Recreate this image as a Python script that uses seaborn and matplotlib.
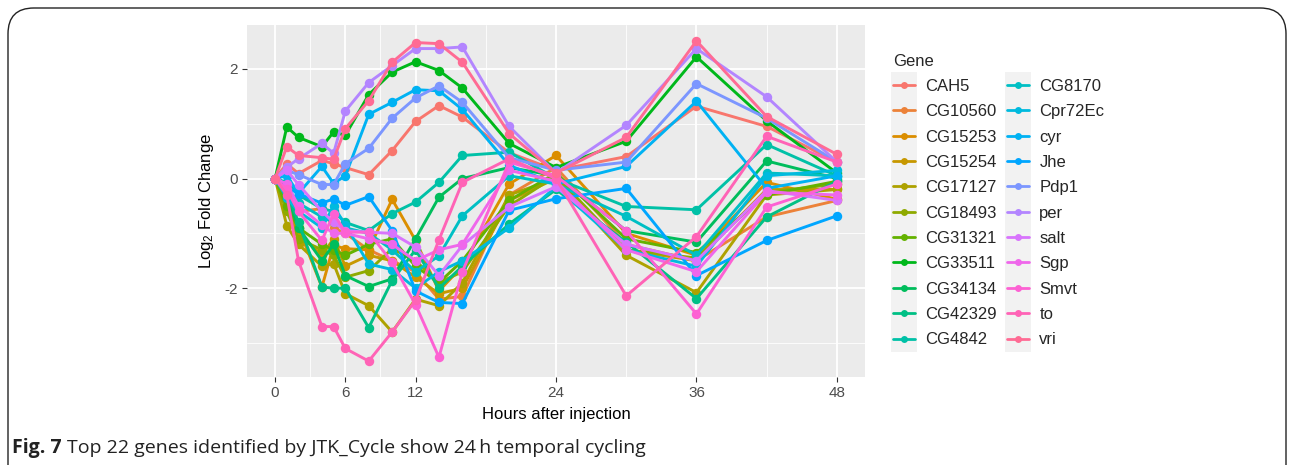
import numpy as np
import pandas as pd
import matplotlib
matplotlib.use("Agg")
import matplotlib.pyplot as plt
import seaborn as sns
from matplotlib.legend_handler import HandlerLine2D
from matplotlib.lines import Line2D
from matplotlib.patches import Rectangle, FancyBboxPatch

# ---------------- data ----------------
hours = [0, 1, 2, 4, 5, 6, 8, 10, 12, 14, 16, 20, 24, 30, 36, 42, 48]

genes = ["CAH5", "CG10560", "CG15253", "CG15254", "CG17127", "CG18493", "CG31321",
         "CG33511", "CG34134", "CG42329", "CG4842", "CG8170", "Cpr72Ec", "cyr", "Jhe",
         "Pdp1", "per", "salt", "Sgp", "Smvt", "to", "vri"]

CAH5    = [0, 0.27, 0.09, 0.33, 0.27, 0.20, 0.07, 0.51, 1.04, 1.33, 1.12, 0.47, 0.15, 0.40, 1.32, 0.95, 0.30]
CG10560 = [0, -0.30, -0.60, -0.55, -0.90, -1.00, -1.30, -1.50, -1.70, -2.20, -2.15, -0.30, 0.20, -1.20, -1.50, -0.70, -0.40]
CG15253 = [0, -0.40, -0.90, -1.98, -1.22, -1.28, -1.30, -0.38, -1.13, -2.05, -1.60, -0.10, 0.42, -1.00, -1.40, -0.07, -0.38]
CG15254 = [0, -0.50, -1.00, -1.40, -1.10, -1.60, -1.40, -1.50, -1.80, -2.10, -2.00, -0.40, 0.00, -1.30, -1.50, -0.20, -0.20]
CG17127 = [0, -0.86, -1.20, -1.60, -1.55, -2.10, -2.32, -2.80, -2.20, -2.32, -1.90, -0.30, 0.00, -1.40, -2.08, -0.30, -0.20]
CG18493 = [0, -0.60, -1.10, -1.30, -1.40, -1.80, -1.68, -1.28, -1.50, -1.90, -1.70, -0.50, 0.05, -1.30, -1.45, -0.25, -0.10]
CG31321 = [0, -0.50, -0.90, -1.20, -1.30, -1.40, -1.20, -1.10, -1.60, -1.90, -1.50, -0.40, 0.10, -1.10, -1.35, -0.30, -0.05]
CG33511 = [0, 0.94, 0.75, 0.58, 0.85, 0.79, 1.53, 1.94, 2.13, 1.97, 1.65, 0.64, 0.20, 0.68, 2.22, 1.05, 0.10]
CG34134 = [0, -0.30, -0.90, -1.50, -1.20, -1.77, -1.97, -1.83, -1.10, -0.34, 0.00, 0.20, 0.05, -0.95, -1.16, 0.32, 0.00]
CG42329 = [0, -0.25, -0.80, -1.98, -2.00, -2.00, -2.72, -1.86, -1.30, -2.00, -1.60, -0.83, -0.20, -1.16, -2.19, -0.70, -0.05]
CG4842  = [0, -0.07, -0.30, -0.55, -0.60, -0.80, -0.95, -0.64, -0.43, -0.07, 0.42, 0.48, 0.00, -0.51, -0.57, 0.62, 0.05]
CG8170  = [0, -0.15, -0.45, -0.70, -0.80, -0.90, -1.00, -1.30, -1.70, -1.41, -0.68, 0.05, -0.10, -0.69, -1.40, 0.10, 0.05]
Cpr72Ec = [0, -0.35, -0.60, -0.90, -0.50, -0.85, -1.56, -1.66, -2.00, -1.70, -1.50, -0.90, -0.15, -1.30, -1.60, 0.05, 0.15]
cyr     = [0, 0.05, -0.27, 0.22, -0.09, 0.05, 1.17, 1.39, 1.62, 1.60, 1.26, 0.24, -0.10, 0.22, 1.41, -0.18, 0.05]
Jhe     = [0, -0.15, -0.28, -0.45, -0.37, -0.49, -0.33, -0.95, -2.05, -2.26, -2.28, -0.58, -0.37, -0.18, -1.77, -1.13, -0.68]
Pdp1    = [0, 0.15, 0.07, -0.11, -0.11, 0.27, 0.55, 1.10, 1.47, 1.69, 1.39, 0.38, 0.15, 0.30, 1.73, 1.10, 0.30]
per     = [0, 0.21, 0.36, 0.64, 0.46, 1.23, 1.75, 2.06, 2.37, 2.37, 2.40, 0.95, 0.10, 0.97, 2.37, 1.49, 0.30]
salt    = [0, 0.15, -0.11, -0.60, -0.80, -0.95, -0.98, -1.00, -1.25, -1.77, -1.22, -0.52, -0.15, -1.20, -1.50, -0.22, -0.40]
Sgp     = [0, -0.10, -0.50, -0.85, -1.00, -1.00, -1.10, -1.20, -1.50, -1.30, -1.20, 0.15, -0.05, -1.30, -1.70, -0.25, -0.30]
Smvt    = [0, -0.20, -0.60, -1.13, -0.64, -0.98, -0.98, -1.53, -2.30, -3.26, -1.70, 0.30, 0.05, -0.95, -2.47, -0.52, -0.10]
to      = [0, -0.30, -1.50, -2.70, -2.70, -3.10, -3.33, -2.80, -2.22, -1.12, -0.07, 0.36, 0.00, -2.14, -1.06, 0.77, 0.30]
vri     = [0, 0.58, 0.42, 0.38, 0.35, 0.91, 1.42, 2.12, 2.48, 2.46, 2.12, 0.82, 0.10, 0.75, 2.51, 1.13, 0.44]

series = [CAH5, CG10560, CG15253, CG15254, CG17127, CG18493, CG31321, CG33511, CG34134,
          CG42329, CG4842, CG8170, Cpr72Ec, cyr, Jhe, Pdp1, per, salt, Sgp, Smvt, to, vri]

x_ticks = [0, 6, 12, 24, 36, 48]
x_minor = [3, 9, 18, 30, 42]
y_ticks = [-2, 0, 2]
y_minor = [-3, -1, 1]

rows = []
for g, vals in zip(genes, series):
    for h, v in zip(hours, vals):
        rows.append({"Gene": g, "Hours": h, "LFC": v})
df = pd.DataFrame(rows)

# ---------------- ggplot hue palette ----------------
def hcl_to_hex(h, c=100.0, l=65.0):
    Xn, Yn, Zn = 95.047, 100.0, 108.883
    hr = np.deg2rad(h)
    U, V = c * np.cos(hr), c * np.sin(hr)
    Y = Yn * ((l + 16) / 116) ** 3
    den = Xn + 15 * Yn + 3 * Zn
    un, vn = 4 * Xn / den, 9 * Yn / den
    u = U / (13 * l) + un
    v = V / (13 * l) + vn
    X = 9.0 * Y * u / (4 * v)
    Z = -X / 3 - 5 * Y + 3 * Y / v
    X, Y, Z = X / 100, Y / 100, Z / 100
    r = 3.240479 * X - 1.537150 * Y - 0.498535 * Z
    g = -0.969256 * X + 1.875992 * Y + 0.041556 * Z
    b = 0.055648 * X - 0.204043 * Y + 1.057311 * Z
    def gam(t):
        t = 1.055 * t ** (1 / 2.4) - 0.055 if t > 0.00304 else 12.92 * t
        return min(max(t, 0), 1)
    return "#%02X%02X%02X" % tuple(int(round(gam(t) * 255)) for t in (r, g, b))

n = len(genes)
palette = [hcl_to_hex(15 + 360 * i / n) for i in range(n)]
pal = dict(zip(genes, palette))

# ---------------- figure ----------------
sns.set_theme(style="darkgrid", rc={"axes.facecolor": "#EBEBEB", "grid.color": "white"})
plt.rcParams["font.family"] = ["Liberation Sans", "DejaVu Sans"]
plt.rcParams["mathtext.fontset"] = "custom"
plt.rcParams["mathtext.rm"] = "Liberation Sans"
plt.rcParams["mathtext.it"] = "Liberation Sans:italic"

W, H = 1293, 465
fig = plt.figure(figsize=(W / 100, H / 100), dpi=100)
fig.patch.set_facecolor("white")

left, right, top, bottom = 247, 865, 25, 377
ax = fig.add_axes([left / W, 1 - bottom / H, (right - left) / W, (bottom - top) / H])
ax.set_facecolor("#EBEBEB")

# grid
ax.grid(False)
for xm in x_minor:
    ax.axvline(xm, color="white", lw=0.6, zorder=0)
for ym in y_minor:
    ax.axhline(ym, color="white", lw=0.6, zorder=0)
for xt in x_ticks:
    ax.axvline(xt, color="white", lw=1.3, zorder=0)
for yt in y_ticks:
    ax.axhline(yt, color="white", lw=1.3, zorder=0)

sns.lineplot(data=df, x="Hours", y="LFC", hue="Gene", hue_order=genes, palette=pal,
             marker="o", markersize=6.8, markeredgewidth=0, linewidth=2.1,
             legend=False, ax=ax, sort=True, estimator=None)

ax.set_xlim(-2.4, 50.4)
ax.set_ylim(-3.62, 2.80)
ax.set_xticks(x_ticks)
ax.set_yticks(y_ticks)
ax.set_xticklabels([str(t) for t in x_ticks])
ax.set_yticklabels([str(t) for t in y_ticks])
ax.tick_params(axis="both", which="major", length=3.5, width=0.8, color="#333333",
               labelsize=11, labelcolor="#4D4D4D", pad=3, direction="out")
ax.tick_params(bottom=True, left=True)
for s in ax.spines.values():
    s.set_visible(False)
ax.set_xlabel("Hours after injection", fontsize=12, color="black", labelpad=5)
ax.set_ylabel(r"Log$_2$ Fold Change", fontsize=12, color="black", labelpad=6)

# legend with grey key backgrounds
class KeyHandler(HandlerLine2D):
    def create_artists(self, legend, orig_handle, xdescent, ydescent, width, height,
                       fontsize, trans):
        arts = super().create_artists(legend, orig_handle, xdescent, ydescent,
                                      width, height, fontsize, trans)
        pad_y = 5.5
        rect = Rectangle((-xdescent - 1, -ydescent - pad_y), width + 2, height + 2 * pad_y,
                         facecolor="#F2F2F2", edgecolor="none", transform=trans, zorder=0)
        return [rect] + list(arts)

handles = [Line2D([0], [0], color=pal[g], lw=2.0, marker="o", markersize=5,
                  markeredgewidth=0) for g in genes]
leg = fig.legend(handles, genes, title="Gene", loc="upper left", ncol=2,
                 bbox_to_anchor=(886 / W, 1 - 47 / H), frameon=False,
                 fontsize=12, title_fontsize=12, handlelength=1.35, handletextpad=0.6,
                 labelspacing=0.62, columnspacing=0.6, borderaxespad=0,
                 handler_map={Line2D: KeyHandler()})
leg._legend_box.align = "left"

# outer rounded frame
frame = FancyBboxPatch((8 / W, -0.2), (1286 - 8) / W, 1 - 8 / H + 0.2,
                       boxstyle="round,pad=0,rounding_size=0.02", transform=fig.transFigure,
                       facecolor="none", edgecolor="#222222", lw=1.0, zorder=10,
                       mutation_aspect=W / H)
fig.patches.append(frame)

# caption
cap_fs = 14
t1 = fig.text(12 / W, 1 - 448 / H, "Fig. 7", fontsize=cap_fs, fontweight="bold",
              family=["Open Sans", "DejaVu Sans"], va="center", ha="left", color="#222222")
fig.canvas.draw()
bb = t1.get_window_extent(renderer=fig.canvas.get_renderer())
fig.text((bb.x1 + 5) / W, 1 - 448 / H,
         "Top 22 genes identified by JTK_Cycle show 24\u2009h temporal cycling",
         fontsize=cap_fs, family=["Open Sans", "DejaVu Sans"], va="center", ha="left",
         color="#222222")

fig.savefig("out.png", dpi=100, facecolor="white")
